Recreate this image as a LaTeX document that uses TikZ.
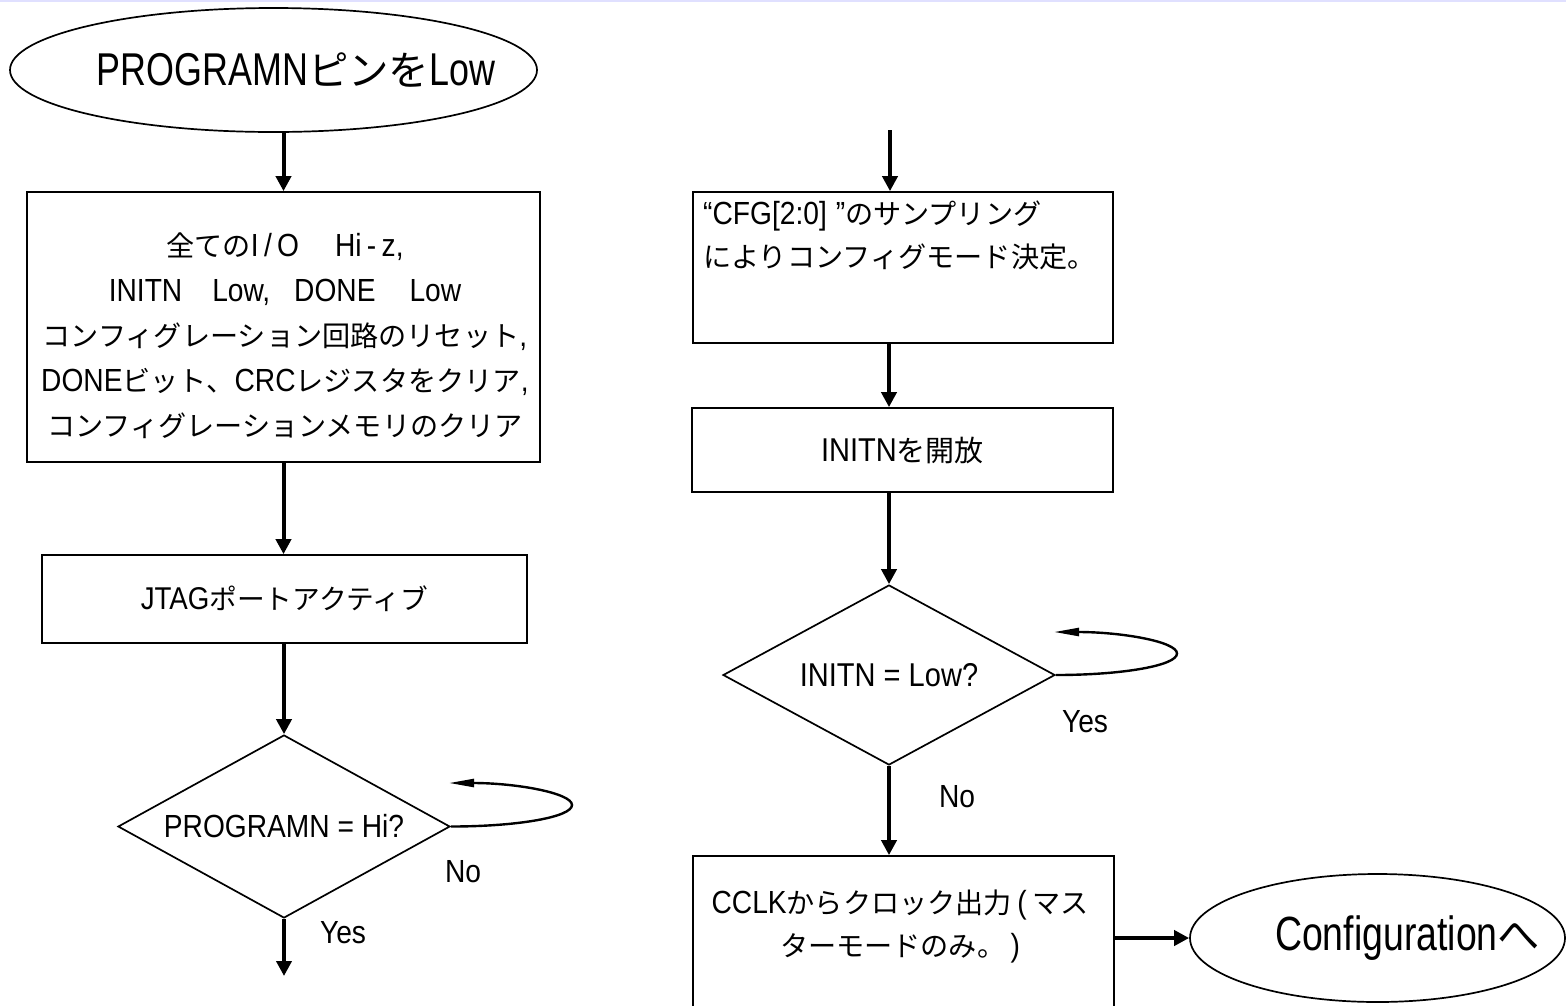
\documentclass[tikz,border=0pt]{standalone}
\usepackage{fontspec}
\setmainfont[FakeStretch=0.88]{Liberation Sans}
\newfontfamily\bigfam[FakeStretch=0.78]{Liberation Sans}
\newfontfamily\jp[Scale=0.88]{Noto Sans CJK JP}
\usetikzlibrary{shapes.geometric,arrows.meta}
\newcommand\J[1]{{\jp #1}}
\begin{document}
\begin{tikzpicture}[x=1pt,y=-1pt,
  box/.style={draw, line width=1.7pt, rectangle, inner sep=0pt, align=center},
  oval/.style={draw, line width=1.7pt, ellipse, inner sep=0pt},
  dia/.style={draw, line width=1.7pt, diamond, aspect=1.8, inner sep=0pt},
  txt/.style={inner sep=0pt, align=center},
  flow/.style={line width=4pt, -{Triangle[length=15pt,width=15pt]}},
  loopa/.style={line width=2.4pt, -{Triangle[length=25pt,width=8pt]}},
  lbl/.style={inner sep=0pt, font=\fontsize{32pt}{38pt}\selectfont},
]
\useasboundingbox (0,0) rectangle (1566,1005);
\fill[white] (0,0) rectangle (1566,1005);
\fill[blue!12] (0,0) rectangle (1566,2);

% left column
\node[oval, minimum width=527pt, minimum height=124pt, font=\fontsize{46pt}{55pt}\selectfont\bigfam] (e1) at (273.5,70)
  {\makebox[0pt][c]{\hspace*{45pt}PROGRAMN\J{ピンを}Low}};
\node[box, minimum width=513pt, minimum height=270pt] (b1) at (283.5,327) {};
\node[txt, font=\fontsize{32pt}{45pt}\selectfont] (b1t) at (285,336)
  {\J{全ての}I\,/\,O\hspace{36pt}Hi\,-\,z,\\
   INITN\hspace{30pt}Low,\hspace{24pt}DONE\hspace{34pt}Low\\
   \J{コンフィグレーション回路のリセット},\\
   DONE\J{ビット、}CRC\J{レジスタをクリア},\\
   \J{コンフィグレーションメモリのクリア}};
\node[box, minimum width=485pt, minimum height=88pt, font=\fontsize{31.5pt}{36pt}\selectfont] (b2) at (284.5,599)
  {JTAG\J{ポートアクティブ}};
\node[dia, minimum width=332pt, minimum height=183pt, font=\fontsize{32pt}{40pt}\selectfont] (d1) at (284,826.5)
  {PROGRAMN = Hi?};
\node[lbl] (no1) at (463,872) {No};
\node[lbl] (yes1) at (343,933) {Yes};
\coordinate (out1) at (284,976);
\coordinate (l1) at (572,805);
\coordinate (t1) at (449,783);

% right column
\coordinate (rtop) at (890,130);
\node[box, minimum width=420pt, minimum height=151pt] (r1) at (903,267.5) {};
\node[txt, anchor=north west, align=left, font=\fontsize{32pt}{43pt}\selectfont] (r1t) at (703,201)
  {“CFG[2:0]\hspace{9pt}”\J{のサンプリング}\\ \J{によりコンフィグモード決定。}};
\node[box, minimum width=421pt, minimum height=84pt, font=\fontsize{33pt}{38pt}\selectfont] (r2) at (902.5,450)
  {INITN\J{を開放}};
\node[dia, minimum width=332pt, minimum height=180pt, font=\fontsize{33pt}{40pt}\selectfont] (d2) at (889,675)
  {INITN = Low?};
\node[lbl] (yes2) at (1085,722) {Yes};
\node[lbl] (no2) at (957,797) {No};
\coordinate (l2) at (1177,653.5);
\coordinate (t2) at (1054,632);
\node[box, minimum width=421pt, minimum height=180pt] (r3) at (903.5,946) {};
\node[txt, font=\fontsize{32pt}{43pt}\selectfont] (r3t) at (900,926)
  {CCLK\J{からクロック出力}\,(\,\J{マス}\\ \J{ターモードのみ。}\,)};
\node[oval, minimum width=375pt, minimum height=128pt, font=\fontsize{48pt}{55pt}\selectfont\bigfam] (e2) at (1377.5,938)
  {\makebox[0pt][c]{\hspace*{60pt}Configuration\J{へ}}};

% connectors
\draw[flow] (e1.south -| b1.north) -- (b1.north);
\draw[flow] (b1.south) -- (b1.south |- b2.north);
\draw[flow] (b2.south -| d1.north) -- (d1.north);
\draw[flow] (d1.south) -- (out1);
\draw[loopa] (d1.east) .. controls +(67,0) and +(0,12) .. (l1) .. controls +(0,-12) and +(67,0) .. (t1);

\draw[flow] (rtop) -- (rtop |- r1.north);
\draw[flow] (r1.south -| d2.north) -- (r2.north -| d2.north);
\draw[flow] (r2.south -| d2.north) -- (d2.north);
\draw[flow] (d2.south) -- (r3.north -| d2.south);
\draw[loopa] (d2.east) .. controls +(67,0) and +(0,12) .. (l2) .. controls +(0,-12) and +(67,0) .. (t2);
\draw[flow] (r3.east |- e2.west) -- (e2.west);
\end{tikzpicture}
\end{document}
